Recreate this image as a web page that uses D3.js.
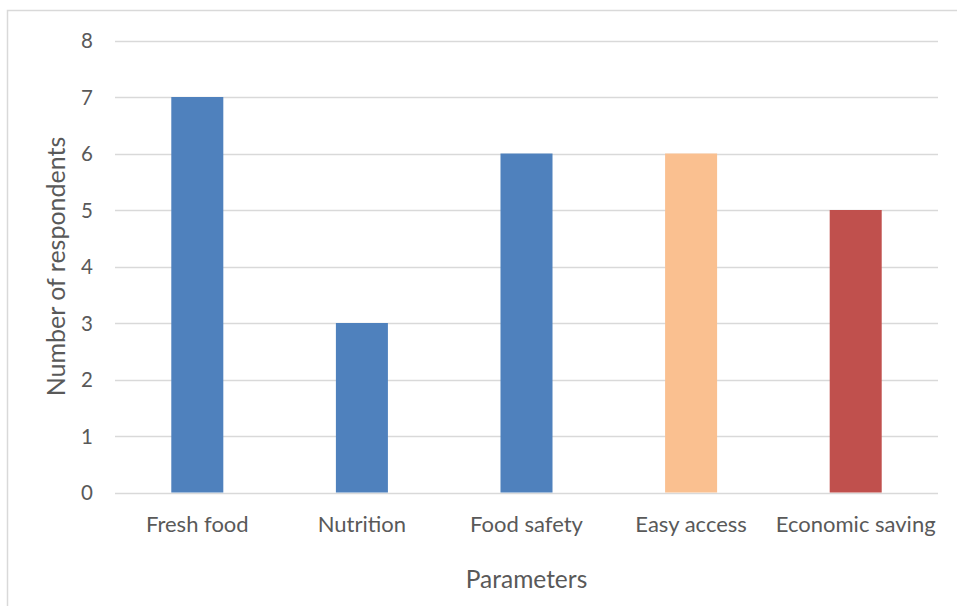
<!DOCTYPE html>
<html><head><meta charset="utf-8">
<script src="https://cdn.jsdelivr.net/npm/d3@7"></script>
<style>body{margin:0;background:#fff;} text{font-family:Lato,"Open Sans",sans-serif;fill:#595959;}</style>
</head><body>
<svg id="c" width="957" height="606"></svg>
<script>
const categories = ["Fresh food","Nutrition","Food safety","Easy access","Economic saving"];
const values = [7,3,6,6,5];
const barColors = ["#4F81BD","#4F81BD","#4F81BD","#FAC090","#C0504D"];
const yTicks = [0,1,2,3,4,5,6,7,8];
const xTitle = "Parameters";
const yTitle = "Number of respondents";

const svg = d3.select("#c");
svg.append("rect").attr("x",7.5).attr("y",10.5).attr("width",1000).attr("height",700)
  .attr("fill","none").attr("stroke","#d9d9d9").attr("stroke-width",1.5);

const pL=115, pR=938, pT=40.5, pB=492.5;
const x = d3.scaleBand().domain(categories).range([pL,pR]).paddingInner(0.684).paddingOuter(0.342);
const y = d3.scaleLinear().domain([0,8]).range([pB,pT]);

svg.append("g").selectAll("line").data(yTicks).join("line")
  .attr("x1",pL).attr("x2",pR).attr("y1",d=>Math.round(y(d))+0.5).attr("y2",d=>Math.round(y(d))+0.5)
  .attr("stroke","#d9d9d9").attr("stroke-width",1.5);

svg.append("g").selectAll("rect").data(categories).join("rect")
  .attr("x",d=>x(d)).attr("width",x.bandwidth())
  .attr("y",(d,i)=>y(values[i])).attr("height",(d,i)=>y(0)-y(values[i]))
  .attr("fill",(d,i)=>barColors[i]);

const yAxis = d3.axisLeft(y).tickValues(yTicks).tickSize(0).tickPadding(0);
const ga = svg.append("g").attr("transform",`translate(${pL-22},0)`).call(yAxis);
ga.select(".domain").remove();
ga.selectAll("text").style("font-size","20.5px").attr("font-family",null).attr("fill","#595959").attr("dy","0.36em");

const xAxis = d3.axisBottom(x).tickSize(0).tickPadding(0);
const gx = svg.append("g").attr("transform",`translate(0,532)`).call(xAxis);
gx.select(".domain").remove();
gx.selectAll("text").style("font-size","22px").attr("font-family",null).attr("fill","#595959").attr("y",0).attr("dy","0");

svg.append("text").attr("x",(pL+pR)/2).attr("y",588).attr("text-anchor","middle")
  .style("font-size","24.5px").text(xTitle);
svg.append("text").attr("transform",`translate(65,${(pT+pB)/2}) rotate(-90)`).attr("text-anchor","middle")
  .style("font-size","25px").text(yTitle);
</script>
</body></html>
